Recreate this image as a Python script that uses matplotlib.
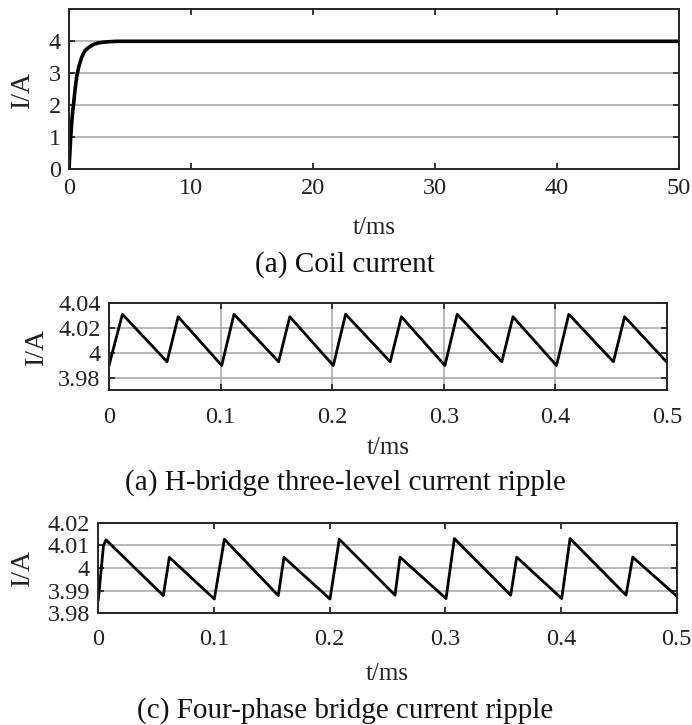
import matplotlib
matplotlib.use("Agg")
import matplotlib.pyplot as plt
import numpy as np

# ---------------- data ----------------
# (a) coil current: start-up transient
coil_t = [0, 0.14, 0.25, 0.36, 0.5, 0.63, 0.8, 1.04, 1.3, 1.58, 2.0, 2.4, 3.0, 3.9, 50]
coil_i = [0, 1.0, 1.6, 2.0, 2.5, 2.9, 3.2, 3.5, 3.7, 3.8, 3.9, 3.95, 3.98, 4.0, 4.0]
coil_xticks = [0, 10, 20, 30, 40, 50]
coil_yticks = [0, 1, 2, 3, 4]

# (b) H-bridge three-level ripple: vertices
hb_t = [0, 0.012, 0.052, 0.062, 0.101, 0.112, 0.152, 0.162, 0.201, 0.212, 0.252,
        0.262, 0.301, 0.312, 0.352, 0.362, 0.401, 0.412, 0.452, 0.462, 0.5]
hb_i = [3.990, 4.031, 3.993, 4.029, 3.990, 4.031, 3.993, 4.029, 3.990, 4.031, 3.993,
        4.029, 3.990, 4.031, 3.993, 4.029, 3.990, 4.031, 3.993, 4.029, 3.9925]
hb_yticks = [3.98, 4.0, 4.02, 4.04]
hb_yticklabels = ["3.98", "4", "4.02", "4.04"]

# (c) four-phase bridge ripple: vertices
fp_t = [0, 0.0045, 0.0067, 0.0562, 0.0614, 0.1003, 0.109, 0.1556, 0.1605, 0.2003, 0.2083,
        0.2565, 0.2608, 0.3006, 0.3078, 0.3565, 0.3617, 0.4006, 0.4078, 0.4562, 0.462, 0.5]
fp_i = [3.986, 4.010, 4.0124, 3.9878, 4.0047, 3.9863, 4.0127, 3.9878, 4.0047, 3.9863, 4.0127,
        3.9880, 4.0048, 3.9865, 4.0130, 3.9880, 4.0048, 3.9865, 4.0130, 3.9880, 4.0048, 3.9876]
fp_yticks = [3.98, 3.99, 4.0, 4.01, 4.02]
fp_yticklabels = ["3.98", "3.99", "4", "4.01", "4.02"]

ripple_xticks = [0, 0.1, 0.2, 0.3, 0.4, 0.5]
ripple_xticklabels = ["0", "0.1", "0.2", "0.3", "0.4", "0.5"]

titles = ["(a) Coil current",
          "(a) H-bridge three-level current ripple",
          "(c) Four-phase bridge current ripple"]

# ---------------- layout ----------------
W, H = 692, 725
fig = plt.figure(figsize=(W / 100, H / 100), dpi=100)

def rect(l, r, t, b):
    return [l / W, 1 - b / H, (r - l) / W, (b - t) / H]

serif = "Liberation Serif"
tick_fs = 17.5
lab_fs = 20
spine_c = "#262626"
grid_c = "#a3a3a3"

def style(ax, xpad, grid_x):
    for s in ax.spines.values():
        s.set_color(spine_c)
        s.set_linewidth(1.4)
    ax.tick_params(direction="in", length=4, width=1.3, colors=spine_c,
                   top=True, right=True, labelsize=tick_fs, labelcolor="#222222")
    ax.tick_params(axis="x", pad=xpad)
    ax.tick_params(axis="y", pad=6)
    for lbl in ax.get_xticklabels() + ax.get_yticklabels():
        lbl.set_fontfamily(serif)
    ax.grid(True, axis="y", color=grid_c, linewidth=1.1)
    if grid_x:
        ax.grid(True, axis="x", color=grid_c, linewidth=1.1)
    ax.set_axisbelow(True)

def labels(ax, ylab_x_px, ax_rect_px, xlab_y_px):
    l, r, t, b = ax_rect_px
    ax.set_ylabel("I/A", fontsize=lab_fs, fontfamily=serif, color="#222222")
    ax.yaxis.label.set_verticalalignment("center")
    ax.yaxis.set_label_coords((ylab_x_px - l) / (r - l), 0.5)
    ax.set_xlabel("t/ms", fontsize=tick_fs + 0.5, fontfamily=serif, color="#222222")
    ax.xaxis.label.set_verticalalignment("center")
    ax.xaxis.set_label_coords(0.5, (b - xlab_y_px) / (b - t))

# top
r1 = (69, 679, 9.3, 169.3)
ax1 = fig.add_axes(rect(*r1))
ax1.plot(coil_t, coil_i, color="black", linewidth=2.6, solid_joinstyle="round")
ax1.set_xlim(0, 50)
ax1.set_ylim(0, 5)
ax1.set_xticks(coil_xticks)
ax1.set_yticks(coil_yticks)
style(ax1, 6, False)
labels(ax1, 22, r1, 228)

# middle
r2 = (109, 667, 303, 390)
ax2 = fig.add_axes(rect(*r2))
ax2.plot(hb_t, hb_i, color="black", linewidth=2.0, solid_joinstyle="round")
ax2.set_xlim(0, 0.5)
ax2.set_ylim(3.9704, 4.04)
ax2.set_xticks(ripple_xticks, ripple_xticklabels)
ax2.set_yticks(hb_yticks, hb_yticklabels)
style(ax2, 12, True)
labels(ax2, 36, r2, 448)

# bottom
r3 = (98.3, 676.7, 522.7, 613.3)
ax3 = fig.add_axes(rect(*r3))
ax3.plot(fp_t, fp_i, color="black", linewidth=2.0, solid_joinstyle="round")
ax3.set_xlim(0, 0.5)
ax3.set_ylim(3.98, 4.02)
ax3.set_xticks(ripple_xticks, ripple_xticklabels)
ax3.set_yticks(fp_yticks, fp_yticklabels)
style(ax3, 11, False)
labels(ax3, 22, r3, 674)

# captions
for y, txt in zip([265, 483, 711], titles):
    fig.text(345 / W, 1 - y / H, txt, ha="center", va="center",
             fontsize=21, fontfamily=serif, color="#111111")

fig.savefig("out.png", dpi=100)
